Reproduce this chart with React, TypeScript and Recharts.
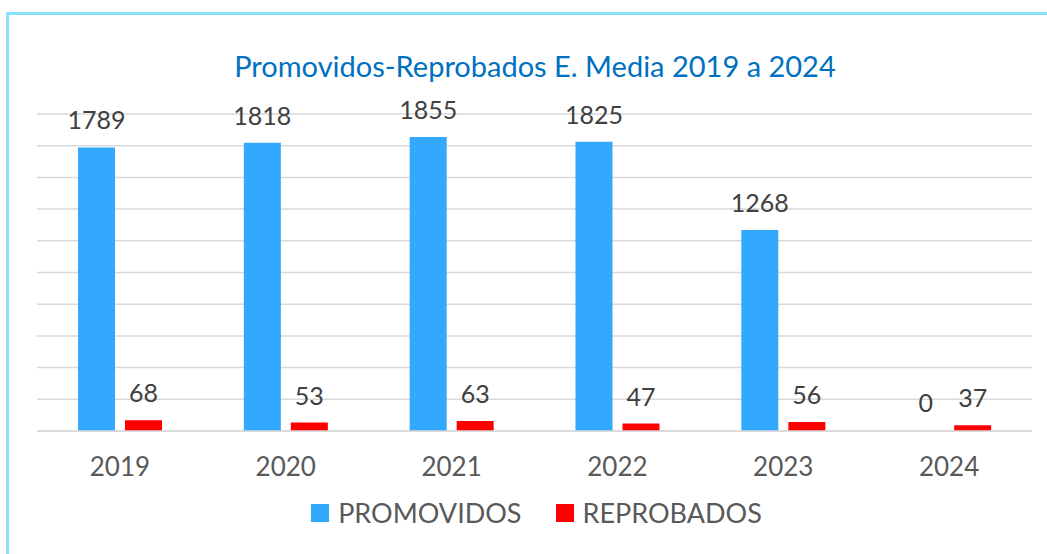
import { BarChart, Bar, Cell, XAxis, YAxis, CartesianGrid, LabelList, Legend } from 'recharts';

const YEARS = ['2019', '2020', '2021', '2022', '2023', '2024'];
const PROMOVIDOS = [1789, 1818, 1855, 1825, 1268, 0];
const REPROBADOS = [68, 53, 63, 47, 56, 37];
const Y_TICKS = [0, 200, 400, 600, 800, 1000, 1200, 1400, 1600, 1800, 2000];

const BLUE = '#33a8ff';
const RED = '#ff0000';
const FONT = 'Lato, "Open Sans", sans-serif';

const data = YEARS.map((year, i) => ({
  year,
  promovidos: PROMOVIDOS[i],
  reprobados: REPROBADOS[i],
}));

// draws the value even when the bar has zero height
function ValueLabel(props: any) {
  const { x, y, width, height, value } = props;
  const top = Math.min(Number(y), Number(y) + Number(height));
  return (
    <text
      x={Number(x) + Number(width) / 2}
      y={top - 18}
      textAnchor="middle"
      fill="#404040"
      fontSize={25}
      fontFamily={FONT}
    >
      {value}
    </text>
  );
}

function LegendContent() {
  const items = [
    { name: 'PROMOVIDOS', color: BLUE },
    { name: 'REPROBADOS', color: RED },
  ];
  return (
    <div style={{ display: 'flex', justifyContent: 'center', gap: 34, fontFamily: FONT, paddingLeft: 26 }}>
      {items.map((it) => (
        <div key={it.name} style={{ display: 'flex', alignItems: 'center', gap: 9 }}>
          <span style={{ width: 18, height: 18, background: it.color, display: 'inline-block' }} />
          <span style={{ fontSize: 27, color: '#595959' }}>{it.name}</span>
        </div>
      ))}
    </div>
  );
}

export default function App() {
  return (
    <div style={{ position: 'absolute', left: 0, top: 0, width: 1047, height: 554, background: '#fff' }}>
      <div
        style={{
          position: 'absolute',
          left: 6,
          top: 12,
          right: 0,
          bottom: 0,
          borderTop: '3px solid #8ae0f8',
          borderLeft: '3px solid #8ae0f8',
        }}
      />
      <div
        style={{
          position: 'absolute',
          left: 0,
          width: 1070,
          top: 48,
          textAlign: 'center',
          fontFamily: FONT,
          fontSize: 29,
          color: '#0070c0',
        }}
      >
        Promovidos-Reprobados E. Media 2019 a 2024
      </div>
      <div style={{ position: 'absolute', left: 0, top: 0 }}>
        <BarChart
          width={1047}
          height={554}
          data={data}
          margin={{ top: 114, right: 15, bottom: 73, left: 37 }}
          barSize={37}
          barGap={10}
        >
          <CartesianGrid vertical={false} stroke="#d9d9d9" strokeWidth={1.5} />
          <YAxis hide domain={[0, 2000]} ticks={Y_TICKS} />
          <XAxis
            dataKey="year"
            height={50}
            axisLine={{ stroke: '#d9d9d9', strokeWidth: 1.5 }}
            tickLine={false}
            tick={{ fill: '#595959', fontSize: 26, fontFamily: FONT }}
            tickMargin={21}
          />
          <Legend
            verticalAlign="middle"
            align="center"
            content={<LegendContent />}
            wrapperStyle={{ top: 496, left: 0, width: 1047 }}
          />
          <Bar dataKey="promovidos" name="PROMOVIDOS" fill={BLUE} minPointSize={1} isAnimationActive={false}>
            {data.map((d) => (
              <Cell key={d.year} fill={d.promovidos === 0 ? 'transparent' : BLUE} />
            ))}
            <LabelList dataKey="promovidos" content={<ValueLabel />} />
          </Bar>
          <Bar dataKey="reprobados" name="REPROBADOS" fill={RED} isAnimationActive={false}>
            <LabelList dataKey="reprobados" content={<ValueLabel />} />
          </Bar>
        </BarChart>
      </div>
    </div>
  );
}
